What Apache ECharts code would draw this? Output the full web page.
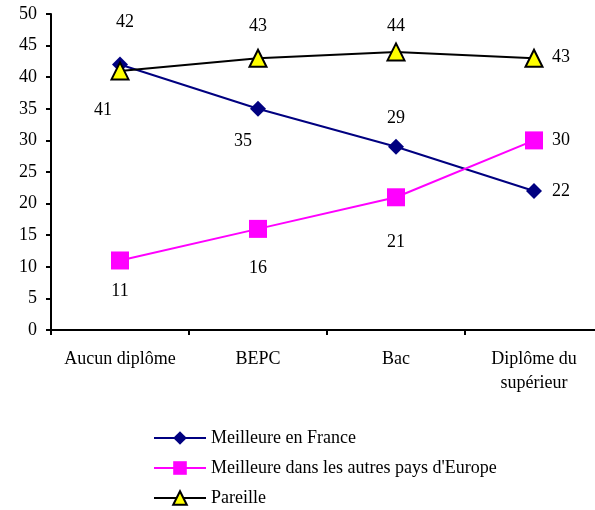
<!DOCTYPE html>
<html>
<head>
<meta charset="utf-8">
<script src="https://cdn.jsdelivr.net/npm/echarts@6/dist/echarts.min.js"></script>
<style>html,body{margin:0;padding:0;background:#fff}#c{width:595px;height:510px}</style>
</head>
<body>
<div id="c"></div>
<script>
var categories = ['Aucun diplôme', 'BEPC', 'Bac', 'Diplôme du\nsupérieur'];
var seriesNames = ['Meilleure en France', "Meilleure dans les autres pays d'Europe", 'Pareille'];
var franceValues = [42, 35, 29, 22];
var europeValues = [11, 16, 21, 30];
var pareilleValues = [41, 43, 44, 43];
var yTicks = [0, 5, 10, 15, 20, 25, 30, 35, 40, 45, 50];

// label placement (style)
var franceOffsets = [[5, -42], [-15, 32], [0, -28], [27, 0]];
var europeOffsets = [[0, 31], [0, 39], [0, 45], [27, 0]];
var pareilleOffsets = [[-17, 39], [0, -32], [0, -26], [27, -1]];

var FONT = 'Liberation Serif';
function build(vals, offs) {
  return vals.map(function (v, i) {
    return { value: v, label: { show: true, position: 'inside', offset: offs[i] } };
  });
}
var labelBase = { show: true, color: '#000', fontFamily: FONT, fontSize: 18 };

var chart = echarts.init(document.getElementById('c'), null, { renderer: 'canvas' });
chart.setOption({
  animation: false,
  backgroundColor: '#fff',
  grid: { left: 51, width: 552, top: 14, height: 316, containLabel: false, outerBoundsMode: 'none' },
  xAxis: {
    type: 'category',
    data: categories,
    boundaryGap: true,
    axisLine: { lineStyle: { color: '#000', width: 2 } },
    axisTick: { show: true, length: 5, lineStyle: { color: '#000', width: 2 } },
    axisLabel: { color: '#000', fontFamily: FONT, fontSize: 18, margin: 17, lineHeight: 24, interval: 0 }
  },
  yAxis: {
    type: 'value',
    min: yTicks[0],
    max: yTicks[yTicks.length - 1],
    interval: 5,
    axisLine: { show: true, lineStyle: { color: '#000', width: 2 } },
    axisTick: { show: true, length: 5, lineStyle: { color: '#000', width: 2 } },
    splitLine: { show: false },
    axisLabel: { color: '#000', fontFamily: FONT, fontSize: 18, margin: 14 }
  },
  legend: {
    orient: 'vertical',
    left: 153,
    top: 429,
    padding: 0,
    height: 100,
    itemWidth: 52,
    itemHeight: 17,
    itemGap: 12,
    textStyle: { color: '#000', fontFamily: FONT, fontSize: 18, lineHeight: 17 },
    data: seriesNames
  },
  series: [
    {
      name: seriesNames[0], type: 'line', data: build(franceValues, franceOffsets),
      symbol: 'diamond', symbolSize: 16,
      lineStyle: { color: '#000080', width: 2 },
      itemStyle: { color: '#000080' },
      label: labelBase, z: 2
    },
    {
      name: seriesNames[1], type: 'line', data: build(europeValues, europeOffsets),
      symbol: 'rect', symbolSize: 18,
      lineStyle: { color: '#FF00FF', width: 2 },
      itemStyle: { color: '#FF00FF' },
      label: labelBase, z: 3
    },
    {
      name: seriesNames[2], type: 'line', data: build(pareilleValues, pareilleOffsets),
      symbol: 'triangle', symbolSize: 17,
      lineStyle: { color: '#000', width: 2 },
      itemStyle: { color: '#FFFF00', borderColor: '#000', borderWidth: 2 },
      label: labelBase, z: 4
    }
  ]
});
</script>
</body>
</html>
